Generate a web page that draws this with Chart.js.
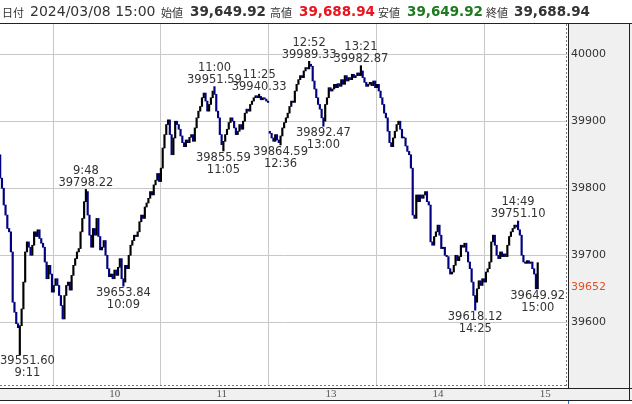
<!DOCTYPE html>
<html><head><meta charset="utf-8">
<script src="https://cdn.jsdelivr.net/npm/chart.js@4.4.1/dist/chart.umd.min.js"></script>
<style>
html,body{margin:0;padding:0;background:#fff;}
#wrap{position:relative;width:632px;height:404px;overflow:hidden;}
#c{position:absolute;left:0;top:0;}
#hdr{position:absolute;left:0;top:0;width:632px;height:23px;font-family:'DejaVu Sans',sans-serif;color:#333;}
#hdr span{position:absolute;top:2px;white-space:nowrap;line-height:18px;}
#hdr .jp{font-family:'Noto Sans CJK JP',sans-serif;font-size:11px;top:3px;}
#hdr .d{font-size:14px;}
#hdr .v{font-size:13.5px;font-weight:bold;}
</style></head>
<body>
<div id="wrap">
<canvas id="c" width="632" height="404"></canvas>
<div id="hdr">
<span class="jp" style="left:2px">日付</span>
<span class="d" style="left:30px">2024/03/08 15:00</span>
<span class="jp" style="left:161px">始値</span>
<span class="v" style="left:190px">39,649.92</span>
<span class="jp" style="left:270px">高値</span>
<span class="v" style="left:299px;color:#e8141e">39,688.94</span>
<span class="jp" style="left:378px">安値</span>
<span class="v" style="left:407px;color:#1e7a1e">39,649.92</span>
<span class="jp" style="left:486px">終値</span>
<span class="v" style="left:514px">39,688.94</span>
</div>
</div>
<script>
// 1-minute closes, 9:00 .. 11:30
const amOpen = 39850;
const amCloses = [
39815,39800,39775,39760,39740,39735,39705,39630,39615,39598,
39592,39595,39620,39660,39705,39720,39712,39700,39715,39735,
39728,39738,39725,39718,39712,39690,39665,39685,39672,39645,
39655,39665,39655,39640,39625,39605,39640,39655,39660,39648,
39670,39685,39695,39705,39710,39735,39755,39780,39795,39760,
39730,39712,39740,39730,39755,39728,39708,39712,39722,39700,
39680,39668,39672,39665,39678,39670,39682,39695,39665,39660,
39685,39680,39700,39715,39722,39730,39728,39735,39750,39760,
39755,39772,39778,39785,39795,39790,39805,39812,39822,39810,
39830,39860,39880,39895,39902,39880,39850,39875,39900,39895,
39888,39878,39868,39862,39872,39868,39876,39880,39870,39890,
39905,39915,39922,39935,39942,39930,39915,39925,39935,39945,
39940,39915,39905,39880,39865,39870,39880,39888,39898,39905,
39900,39890,39880,39885,39895,39888,39900,39912,39918,39915,
39925,39930,39935,39938,39935,39937,39932,39935,39933,39930,
39928];
// 1-minute closes, 12:30 .. 15:00
const pmOpen = 39885;
const pmCloses = [
39882,39875,39870,39880,39872,39868,39878,39890,39898,39905,
39912,39922,39930,39928,39945,39955,39962,39968,39965,39975,
39980,39978,39985,39982,39960,39948,39935,39925,39918,39905,
39900,39925,39935,39950,39945,39948,39955,39950,39956,39952,
39962,39955,39968,39960,39965,39962,39970,39965,39968,39972,
39968,39975,39965,39958,39952,39955,39958,39953,39960,39950,
39955,39945,39935,39925,39912,39905,39885,39868,39862,39875,
39885,39895,39900,39888,39875,39875,39863,39855,39850,39830,
39760,39755,39790,39780,39790,39785,39790,39795,39780,39775,
39720,39715,39728,39735,39745,39730,39710,39712,39700,39698,
39680,39672,39675,39685,39700,39692,39698,39715,39712,39718,
39705,39690,39680,39660,39640,39630,39650,39662,39655,39665,
39660,39675,39680,39690,39720,39730,39715,39700,39695,39705,
39698,39702,39698,39715,39728,39735,39740,39745,39742,39738,
39730,39700,39690,39688,39692,39688,39690,39680,39672,39649.92,
39688.94];

const markerTimes  = ['9:11','9:48','10:09','11:00','11:05','11:25','12:36','12:52','13:00','13:21','14:25','14:49','15:00'];
const markerValues = [39551.60,39798.22,39653.84,39951.59,39855.59,39940.33,39864.59,39989.33,39892.47,39982.87,39618.12,39751.10,39649.92];
const markerKinds  = ['L','H','L','H','L','H','L','H','L','H','L','H','L'];

const xTickTimes  = ['10:00','11:00','13:00','14:00','15:00'];
const xTickLabels = ['10','11','13','14','15'];
const yTickValues = [39600,39652,39700,39800,39900,40000];
const lastPrice = 39652;

// minute slot on the time axis (lunch break removed)
function slot(t){
  const p = t.split(':').map(Number);
  const mins = p[0]*60 + p[1];
  return mins <= 690 ? mins - 540 : 151 + (mins - 750);
}

const bars = [];
function addSession(closes, open, startSlot){
  let prev = open;
  closes.forEach((c, i) => {
    const s = startSlot + i;
    let lo = Math.min(prev, c), hi = Math.max(prev, c);
    markerTimes.forEach((t, j) => {
      if (slot(t) === s){ lo = Math.min(lo, markerValues[j]); hi = Math.max(hi, markerValues[j]); }
    });
    bars.push({x: s, y: [lo, hi], up: c >= prev});
    prev = c;
  });
}
addSession(amCloses, amOpen, 0);
addSession(pmCloses, pmOpen, 151);

const frame = {
  id: 'frame',
  beforeDraw(chart){
    const c = chart.ctx;
    c.save();
    c.fillStyle = '#f0f0f0';
    c.fillRect(568, 24, 64, 365);
    c.fillRect(0, 389, 632, 12);
    c.restore();
  },
  afterDatasetsDraw(chart){
    const c = chart.ctx, xs = chart.scales.x, ys = chart.scales.y;
    const area = chart.chartArea;
    c.save();
    c.font = '11.5px "DejaVu Sans"';
    c.fillStyle = '#333';
    c.textAlign = 'center';
    markerTimes.forEach((t, j) => {
      const v = markerValues[j];
      const vt = v.toFixed(2);
      const px = xs.getPixelForValue(slot(t));
      const py = ys.getPixelForValue(v);
      const w = Math.max(c.measureText(vt).width, c.measureText(t).width);
      let cx = Math.max(area.left + w/2, Math.min(area.right - w/2 + 1, px));
      if (markerKinds[j] === 'H'){
        c.textBaseline = 'bottom';
        c.fillText(vt, cx, py - 1);
        c.fillText(t, cx, py - 13);
      } else {
        c.textBaseline = 'top';
        c.fillText(vt, cx, py + 1);
        c.fillText(t, cx, py + 13);
      }
    });
    c.restore();
  },
  afterDraw(chart){
    const c = chart.ctx;
    c.save();
    c.lineWidth = 1;
    c.strokeStyle = '#777';
    c.setLineDash([2, 2]);
    c.beginPath();
    c.moveTo(566.5, 24); c.lineTo(566.5, 386);
    c.moveTo(0, 385.5); c.lineTo(567, 385.5);
    c.stroke();
    c.setLineDash([]);
    c.strokeStyle = '#222';
    c.beginPath();
    c.moveTo(0, 23.5); c.lineTo(632, 23.5);
    c.moveTo(568.5, 24); c.lineTo(568.5, 389);
    c.moveTo(0, 388.5); c.lineTo(632, 388.5);
    c.moveTo(0, 400.5); c.lineTo(632, 400.5);
    c.moveTo(629.5, 24); c.lineTo(629.5, 401);
    c.stroke();
    c.strokeStyle = '#3070c0';
    c.beginPath();
    c.moveTo(568.5, 401); c.lineTo(568.5, 404);
    c.stroke();
    c.restore();
  }
};

new Chart(document.getElementById('c'), {
  type: 'bar',
  data: {
    datasets: [{
      data: bars.map(b => ({x: b.x, y: b.y})),
      backgroundColor: ctx => (bars[ctx.dataIndex] && bars[ctx.dataIndex].up) ? '#000000' : '#000080',
      barThickness: 1.5,
      minBarLength: 1,
      borderWidth: 0
    }]
  },
  options: {
    responsive: false,
    animation: false,
    devicePixelRatio: 1,
    layout: {padding: {top: 24, left: 0, right: 0, bottom: 0}},
    plugins: {legend: {display: false}, tooltip: {enabled: false}},
    scales: {
      x: {
        type: 'linear',
        min: -0.1,
        max: 317.4,
        position: 'bottom',
        offset: false,
        grid: {color: '#c8c8c8', drawTicks: false, tickLength: 0},
        border: {display: false},
        afterBuildTicks: s => { s.ticks = xTickTimes.map(t => ({value: slot(t)})); },
        afterFit: s => { s.height = 18; },
        ticks: {
          align: 'start',
          labelOffset: 2,
          padding: 2,
          maxRotation: 0,
          autoSkip: false,
          color: '#555',
          font: {family: '"Liberation Serif"', size: 11},
          callback: (v) => { const k = xTickTimes.findIndex(t => slot(t) === v); return k >= 0 ? xTickLabels[k] : ''; }
        }
      },
      y: {
        type: 'linear',
        position: 'right',
        min: 39505,
        max: 40045,
        grid: {color: ctx => (ctx.tick && ctx.tick.value === lastPrice) ? 'rgba(0,0,0,0)' : '#c8c8c8', drawTicks: false, tickLength: 0},
        border: {display: false},
        afterBuildTicks: s => { s.ticks = yTickValues.map(v => ({value: v})); },
        afterFit: s => { s.width = 65; },
        ticks: {
          padding: 4,
          autoSkip: false,
          color: ctx => (ctx.tick && ctx.tick.value === lastPrice) ? '#e0502a' : '#333',
          font: {family: '"DejaVu Sans"', size: 11},
          callback: v => String(v)
        }
      }
    }
  },
  plugins: [frame]
});
</script>
</body></html>
